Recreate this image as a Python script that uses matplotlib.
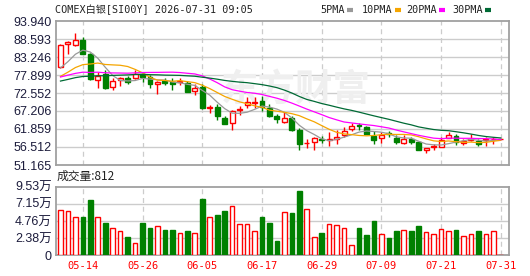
import numpy as np
import pandas as pd
import matplotlib
matplotlib.use('Agg')
import matplotlib.pyplot as plt
from matplotlib.lines import Line2D

# K线数据 (05-11 .. 07-31, 60 个交易日)
open_ = [80.36, 87.02, 86.81, 88.30, 84.05, 76.32, 78.10, 74.25, 76.32, 77.10,
         76.92, 78.27, 77.39, 75.14, 76.21, 75.82, 75.92, 75.61, 73.23, 74.33,
         68.10, 68.39, 65.10, 63.55, 67.50, 68.99, 69.49, 70.18, 68.19, 65.72,
         63.85, 65.10, 61.56, 57.60, 58.00, 58.98, 58.50, 58.98, 60.08, 61.77,
         62.96, 62.36, 59.78, 59.09, 60.60, 59.28, 57.80, 58.98, 58.00, 55.71,
         56.40, 56.60, 59.28, 59.69, 57.80, 58.70, 58.38, 58.59, 58.80, 58.95]
close = [86.81, 87.61, 88.30, 84.14, 76.71, 77.69, 74.13, 76.03, 76.92, 75.90,
         78.27, 77.30, 75.10, 75.73, 75.61, 75.32, 76.12, 72.94, 74.04, 68.19,
         68.30, 65.63, 63.43, 67.30, 67.89, 69.97, 69.79, 68.39, 65.81, 64.92,
         65.10, 61.56, 57.49, 57.80, 59.18, 58.68, 58.80, 59.39, 61.18, 62.66,
         62.66, 60.46, 58.59, 60.17, 60.30, 58.09, 58.89, 58.09, 55.71, 56.21,
         56.90, 58.59, 60.08, 58.09, 58.20, 58.89, 57.40, 58.80, 58.98, 59.00]
high = [87.10, 88.00, 90.46, 89.28, 84.35, 78.70, 79.30, 76.92, 77.30, 77.51,
        79.40, 78.70, 77.90, 76.12, 76.92, 76.92, 77.10, 76.12, 75.14, 75.14,
        68.99, 69.37, 65.80, 67.60, 68.78, 71.27, 71.27, 71.57, 69.20, 66.40,
        67.00, 65.80, 62.24, 58.89, 59.48, 59.68, 60.88, 61.47, 62.36, 63.73,
        63.55, 62.75, 61.18, 60.88, 61.18, 60.08, 59.98, 59.39, 58.30, 56.21,
        57.30, 59.48, 61.06, 60.37, 58.89, 60.37, 58.89, 59.48, 59.48, 59.00]
low = [79.90, 84.05, 86.50, 84.00, 76.30, 74.13, 73.65, 73.53, 74.70, 75.30,
       76.70, 75.90, 73.95, 72.17, 74.93, 73.53, 74.84, 72.76, 72.05, 67.80,
       66.60, 64.62, 63.43, 61.65, 66.02, 68.19, 68.19, 67.12, 65.33, 63.55,
       63.73, 61.27, 55.71, 56.10, 55.62, 57.78, 56.90, 57.40, 59.39, 61.36,
       61.56, 60.28, 57.49, 57.78, 59.39, 57.49, 57.30, 57.40, 55.50, 54.80,
       55.71, 56.40, 59.28, 57.20, 57.20, 58.38, 56.90, 56.90, 57.30, 58.95]
volume = [62300, 60900, 52600, 53100, 76600, 52600, 44800, 37400, 33700, 25400,
          16600, 44800, 37900, 40600, 35100, 35100, 30500, 33700, 30500, 78000,
          52600, 55900, 61400, 67900, 42900, 42900, 33700, 53100, 44800, 19900,
          60000, 58600, 89100, 63700, 24900, 30900, 42900, 41600, 37400, 13900,
          37900, 28200, 47600, 29100, 24000, 33700, 35100, 33700, 40600, 32300,
          29100, 36000, 34200, 35100, 26800, 29100, 33700, 29100, 33700, 812]
# 窗口之前的收盘价 (由均线起点估计)
prior_close = [73.0, 72.5, 73.8, 74.2, 73.5, 74.0, 73.2, 74.6, 73.9, 74.3,
               76.5, 77.8, 77.0, 78.2, 76.4, 77.5, 76.9, 77.6, 76.8, 76.3,
               75.2, 74.6, 75.5, 74.8, 74.9, 78.3, 77.3, 78.0, 79.6]

date_ticks = [3, 11, 19, 27, 35, 43, 51, 59]
date_labels = ['05-14', '05-26', '06-05', '06-17', '06-29', '07-09', '07-21', '07-31']
price_ticks = [51.165, 56.512, 61.859, 67.206, 72.552, 77.899, 83.246, 88.593, 93.940]
vol_ticks = [0, 23825, 47650, 71475, 95300]
vol_labels = ['0', '2.38万', '4.76万', '7.15万', '9.53万']

ma_periods = [5, 10, 20, 30]
ma_colors = ['#999999', '#f5a500', '#ff00ff', '#006a35']

RED = '#ff0000'
GREEN = '#008000'
FRAME = '#a0a0a0'
GRID = '#cccccc'
LABEL = '#1c1c3c'
mono = ['DejaVu Sans Mono', 'Noto Sans CJK SC']
sans = ['Liberation Sans', 'Noto Sans CJK SC']

n = len(close)
x = np.arange(n)
o = np.array(open_)
c = np.array(close)
up = c >= o

fig = plt.figure(figsize=(5.30, 2.76), dpi=100)
ax = fig.add_axes([56 / 530, 1 - 165 / 276, 453 / 530, 144 / 276])
ax2 = fig.add_axes([56 / 530, 1 - 255.3 / 276, 453 / 530, 68.8 / 276])

for a in (ax, ax2):
    a.set_xlim(-0.6, 60.1)
    for s in a.spines.values():
        s.set_color(FRAME)
        s.set_linewidth(1.3)
    a.tick_params(length=0, pad=3, labelsize=9, labelcolor=LABEL)
    for t in date_ticks:
        a.axvline(t, color=GRID, lw=0.9, ls=(0, (4, 3)), zorder=0)
    a.set_xticks(date_ticks)

# 价格面板
ax.set_ylim(price_ticks[0], price_ticks[-1])
ax.set_yticks(price_ticks)
ax.set_yticklabels(['%.3f' % v for v in price_ticks], family=sans)
ax.set_xticklabels([])
for v in price_ticks[1:-1]:
    ax.axhline(v, color=GRID, lw=1, zorder=0)

ax.text(0.53, 0.52, '东方财富', transform=ax.transAxes, ha='center', va='center',
        fontsize=27, color='#efefef', family='Noto Sans CJK SC', fontweight='bold', zorder=0)

allc = pd.Series(prior_close + close)
for p, col in zip(ma_periods, ma_colors):
    ma = allc.rolling(p).mean().values[len(prior_close):]
    ax.plot(x, ma, color=col, lw=0.9, zorder=4)

w = 0.66
top = np.maximum(o, c)
bot = np.minimum(o, c)
for i in range(n):
    col = RED if up[i] else GREEN
    ax.vlines(x[i], top[i], high[i], color=col, lw=1, zorder=2)
    ax.vlines(x[i], low[i], bot[i], color=col, lw=1, zorder=2)
    h = max(top[i] - bot[i], 0.08)
    if up[i]:
        ax.bar(x[i], h, w, bottom=bot[i], facecolor='white', edgecolor=col, lw=1, zorder=3)
    else:
        ax.bar(x[i], h, w, bottom=bot[i], facecolor=col, edgecolor=col, lw=1, zorder=3)

# 成交量面板
ax2.set_ylim(0, vol_ticks[-1])
ax2.set_yticks(vol_ticks)
ax2.set_yticklabels(vol_labels, family=sans)
for v in vol_ticks[1:-1]:
    ax2.axhline(v, color=GRID, lw=1, zorder=0)
vol = np.array(volume)
ax2.bar(x[up], vol[up], 0.62, facecolor='white', edgecolor=RED, lw=1, zorder=3)
ax2.bar(x[~up], vol[~up], 0.62, facecolor=GREEN, edgecolor=GREEN, lw=1, zorder=3)
ax2.set_xticklabels(date_labels, family=mono, fontsize=7.5, color=RED)
ax2.tick_params(axis='x', pad=4, labelcolor=RED)

# 标题与图例
fig.text(55 / 530, 1 - 10 / 276, 'COMEX白银[SI00Y] 2026-07-31 09:05', family=mono,
         fontsize=7.3, color='#222222', va='center', ha='left')
fig.text(57 / 530, 1 - 176 / 276, '成交量:812', family=['Noto Sans CJK SC', 'DejaVu Sans'],
         fontsize=8.5, color='#222222', va='center', ha='left')
leg_x = [320, 362, 406, 452]
for lx, p, col in zip(leg_x, ma_periods, ma_colors):
    t = fig.text(lx / 530, 1 - 10 / 276, '%dPMA' % p, family=mono, fontsize=7.3,
                 color='#222222', va='center', ha='left')
    ex = lx + (4 if p < 10 else 5) * 5.9 + 3
    fig.lines.append(Line2D([ex / 530, (ex + 6) / 530], [1 - 10 / 276, 1 - 10 / 276],
                            transform=fig.transFigure, color=col, lw=3, solid_capstyle='butt'))

fig.savefig('out.png', dpi=100)
